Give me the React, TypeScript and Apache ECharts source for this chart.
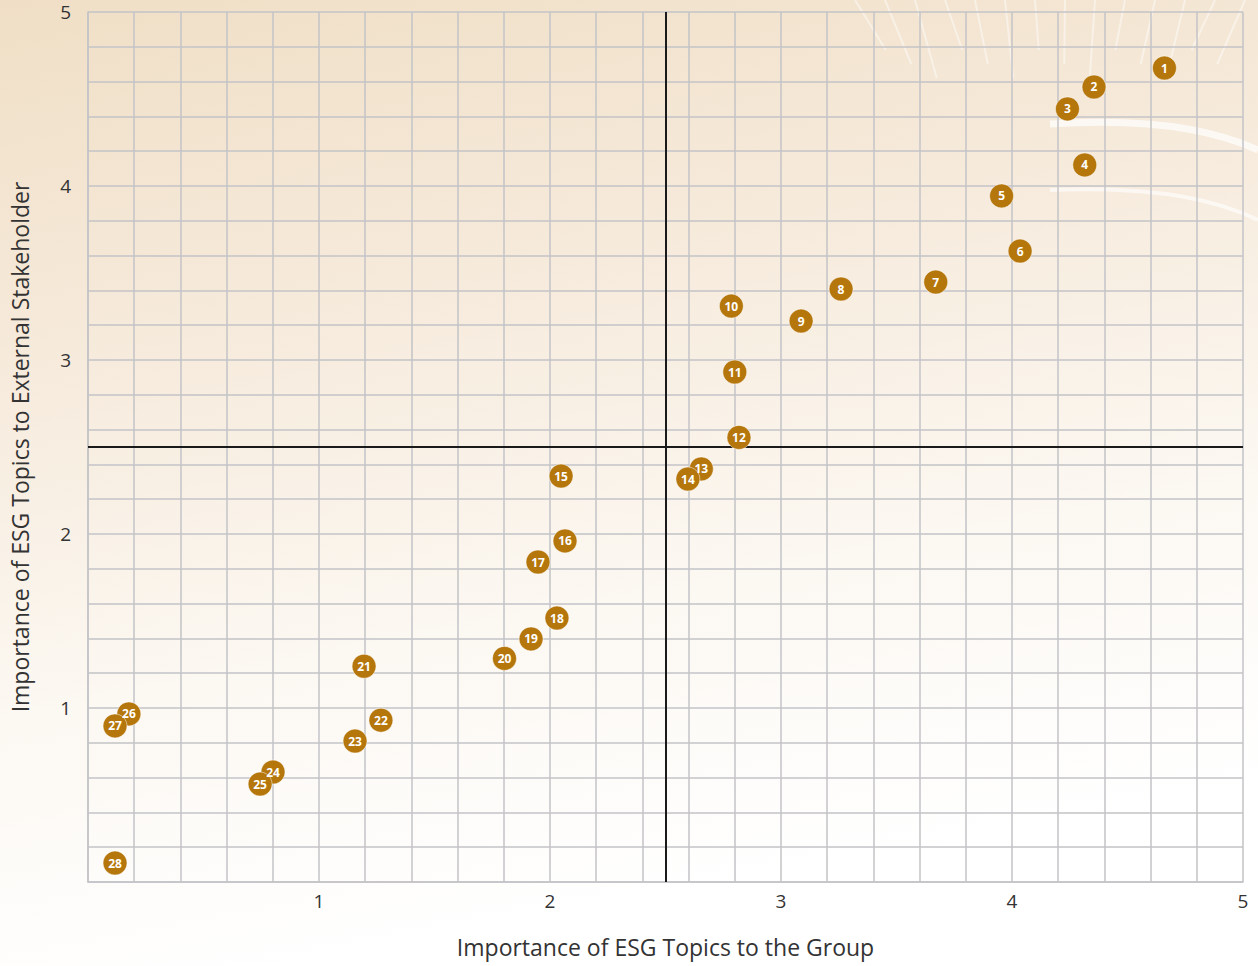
import React, { useEffect, useRef } from "react";
import * as echarts from "echarts";

const topicIds = ["1","2","3","4","5","6","7","8","9","10","11","12","13","14","15","16","17","18","19","20","21","22","23","24","25","26","27","28"];
const groupImportance = [4.66, 4.355, 4.24, 4.315, 3.955, 4.035, 3.67, 3.26, 3.087, 2.785, 2.8, 2.818, 2.655, 2.597, 2.048, 2.065, 1.948, 2.03, 1.918, 1.803, 1.195, 1.268, 1.156, 0.801, 0.745, 0.177, 0.117, 0.117];
const stakeholderImportance = [4.678, 4.569, 4.443, 4.121, 3.943, 3.626, 3.448, 3.408, 3.224, 3.31, 2.931, 2.555, 2.374, 2.316, 2.333, 1.96, 1.839, 1.517, 1.397, 1.285, 1.24, 0.93, 0.81, 0.632, 0.563, 0.966, 0.897, 0.109];
const axisTicks = [1, 2, 3, 4, 5];
const xAxisTitle = "Importance of ESG Topics to the Group";
const yAxisTitle = "Importance of ESG Topics to External Stakeholder";

const GRID_COLOR = "#c3c3c7";
const MARK_COLOR = "#b5760b";

export default function App() {
  const ref = useRef<HTMLDivElement>(null);
  useEffect(() => {
    if (!ref.current) return;
    const chart = echarts.init(ref.current, undefined, { renderer: "svg" });
    const points = topicIds.map((id, i) => ({ name: id, value: [groupImportance[i], stakeholderImportance[i]] }));
    const rays: any[] = [];
    const rayX = [855, 885, 915, 945, 975, 1005, 1035, 1065, 1095, 1125, 1155, 1185, 1215, 1245];
    rayX.forEach((x, i) => {
      const dx = (x - 1060) * 0.15;
      rays.push({
        type: "line",
        z: -5,
        silent: true,
        shape: { x1: x, y1: 0, x2: x - dx, y2: 50 + (i % 3) * 14 },
        style: { stroke: "rgba(255,255,255,0.45)", lineWidth: 2 },
      });
    });
    const tickLabel = (v: number) => (axisTicks.indexOf(Math.round(v)) >= 0 && Math.abs(v - Math.round(v)) < 1e-6 ? String(Math.round(v)) : "");
    const axisCommon = {
      type: "value",
      min: 0,
      max: 5,
      interval: 1,
      axisLine: { show: true, lineStyle: { color: GRID_COLOR, width: 1.5 } },
      axisTick: { show: false },
      splitLine: { show: true, lineStyle: { color: GRID_COLOR, width: 1.5 } },
      minorTick: { show: false, splitNumber: 5 },
      minorSplitLine: { show: true, lineStyle: { color: GRID_COLOR, width: 1.5 } },
      nameLocation: "middle",
      nameTextStyle: { color: "#333", fontFamily: "Open Sans", fontSize: 23 },
    };
    chart.setOption({
      animation: false,
      backgroundColor: {
        type: "linear", x: 0, y: 0, x2: 0.25, y2: 1,
        colorStops: [
          { offset: 0, color: "#f0dfc6" },
          { offset: 0.35, color: "#f6eadb" },
          { offset: 0.7, color: "#fcf8f2" },
          { offset: 1, color: "#ffffff" },
        ],
      },
      graphic: [
        ...rays,
        { type: "bezierCurve", z: -5, silent: true, shape: { x1: 1050, y1: 124, x2: 1258, y2: 150, cpx1: 1140, cpy1: 118, cpx2: 1210, cpy2: 128 }, style: { stroke: "rgba(255,255,255,0.7)", lineWidth: 7, fill: null } },
        { type: "bezierCurve", z: -5, silent: true, shape: { x1: 1050, y1: 190, x2: 1258, y2: 220, cpx1: 1140, cpy1: 186, cpx2: 1210, cpy2: 196 }, style: { stroke: "rgba(255,255,255,0.6)", lineWidth: 4, fill: null } },
      ],
      grid: { left: 88, right: 15, top: 12, bottom: 84, containLabel: false, outerBoundsMode: "none" },
      xAxis: {
        ...axisCommon,
        name: xAxisTitle,
        nameGap: 53,
        axisLabel: { formatter: tickLabel, color: "#333", fontFamily: "Open Sans", fontSize: 19, margin: 9, showMaxLabel: true },
      },
      yAxis: {
        ...axisCommon,
        name: yAxisTitle,
        nameGap: 57,
        axisLabel: { formatter: tickLabel, color: "#333", fontFamily: "Open Sans", fontSize: 19, margin: 17, showMaxLabel: true },
      },
      series: [
        {
          type: "scatter",
          data: points,
          symbolSize: 24,
          itemStyle: { color: MARK_COLOR, borderColor: "rgba(255,255,255,0.5)", borderWidth: 1, opacity: 1 },
          label: {
            show: true,
            position: "inside",
            formatter: (p: any) => p.name,
            color: "#ffffff",
            fontFamily: "Open Sans",
            fontWeight: "bold",
            fontSize: 12,
          },
          emphasis: { disabled: true },
          markLine: {
            silent: true,
            symbol: "none",
            label: { show: false },
            lineStyle: { color: "#1a1a1a", width: 2, type: "solid" },
            data: [{ xAxis: 2.5 }, { yAxis: 2.5 }],
            z: 1,
          },
        },
      ],
    });
    return () => chart.dispose();
  }, []);
  return <div ref={ref} style={{ position: "fixed", left: 0, top: 0, width: 1258, height: 966 }} />;
}
